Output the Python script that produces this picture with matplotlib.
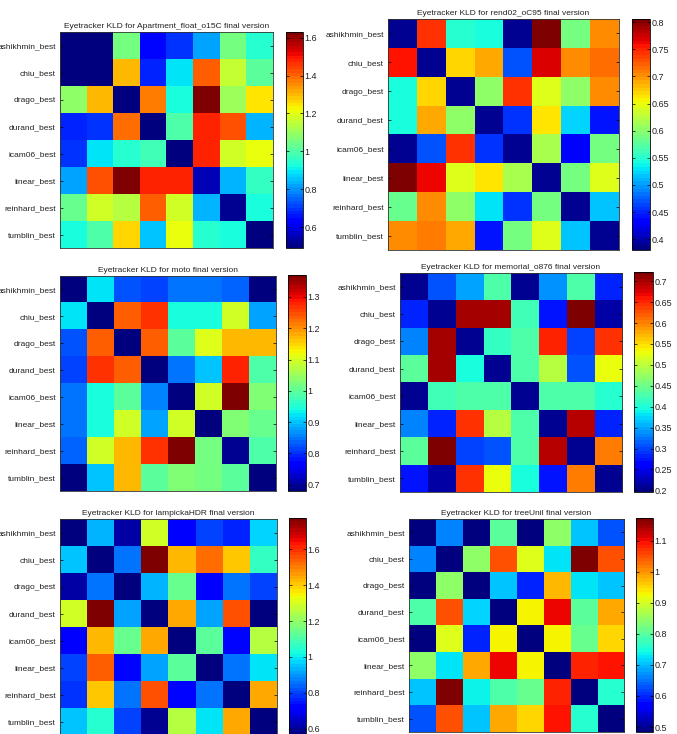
import matplotlib
matplotlib.use("Agg")
import matplotlib.pyplot as plt
from matplotlib.ticker import FormatStrFormatter

plt.rcParams['font.family'] = ['Liberation Sans', 'DejaVu Sans']

W, H = 677, 734

methods = ["ashikhmin_best", "chiu_best", "drago_best", "durand_best",
           "icam06_best", "linear_best", "reinhard_best", "tumblin_best"]

apartment = [
    [0.50, 0.50, 1.05, 0.65, 0.70, 0.82, 1.05, 0.95],
    [0.50, 0.50, 1.30, 0.67, 0.89, 1.41, 1.15, 1.02],
    [1.08, 1.30, 0.50, 1.38, 0.92, 1.62, 1.10, 1.25],
    [0.67, 0.69, 1.39, 0.50, 1.00, 1.47, 1.42, 0.84],
    [0.70, 0.89, 0.94, 0.98, 0.50, 1.48, 1.17, 1.22],
    [0.82, 1.42, 1.62, 1.48, 1.48, 0.55, 0.84, 0.97],
    [1.04, 1.17, 1.14, 1.41, 1.18, 0.84, 0.52, 0.92],
    [0.92, 1.00, 1.26, 0.85, 1.22, 0.95, 0.92, 0.50],
]
rend02 = [
    [0.39, 0.745, 0.55, 0.54, 0.39, 0.80, 0.59, 0.705],
    [0.757, 0.39, 0.67, 0.69, 0.47, 0.77, 0.70, 0.715],
    [0.54, 0.67, 0.39, 0.60, 0.74, 0.64, 0.60, 0.70],
    [0.54, 0.69, 0.605, 0.39, 0.455, 0.66, 0.525, 0.44],
    [0.39, 0.47, 0.74, 0.455, 0.39, 0.615, 0.43, 0.59],
    [0.805, 0.76, 0.645, 0.66, 0.615, 0.39, 0.59, 0.64],
    [0.585, 0.70, 0.60, 0.53, 0.455, 0.59, 0.39, 0.515],
    [0.705, 0.71, 0.69, 0.445, 0.59, 0.64, 0.515, 0.39],
]
moto = [
    [0.69, 0.92, 0.83, 0.81, 0.85, 0.85, 0.84, 0.69],
    [0.92, 0.69, 1.24, 1.27, 0.94, 0.94, 1.10, 0.88],
    [0.83, 1.24, 0.69, 1.23, 1.00, 1.105, 1.17, 1.17],
    [0.81, 1.27, 1.235, 0.69, 0.85, 0.90, 1.28, 0.99],
    [0.85, 0.94, 1.00, 0.86, 0.69, 1.10, 1.36, 1.035],
    [0.85, 0.94, 1.10, 0.88, 1.09, 0.69, 1.03, 1.01],
    [0.84, 1.10, 1.17, 1.27, 1.36, 1.025, 0.70, 0.99],
    [0.69, 0.90, 1.17, 1.00, 1.03, 1.02, 1.00, 0.69],
]
memorial = [
    [0.21, 0.305, 0.35, 0.43, 0.21, 0.34, 0.43, 0.28],
    [0.285, 0.21, 0.705, 0.705, 0.42, 0.27, 0.72, 0.215],
    [0.335, 0.705, 0.21, 0.41, 0.43, 0.65, 0.30, 0.645],
    [0.44, 0.70, 0.40, 0.21, 0.43, 0.50, 0.31, 0.53],
    [0.21, 0.42, 0.43, 0.43, 0.21, 0.43, 0.43, 0.405],
    [0.335, 0.28, 0.645, 0.50, 0.43, 0.21, 0.69, 0.28],
    [0.44, 0.715, 0.295, 0.31, 0.43, 0.69, 0.21, 0.60],
    [0.27, 0.22, 0.645, 0.53, 0.40, 0.27, 0.60, 0.21],
]
lampicka = [
    [0.58, 0.93, 0.62, 1.30, 0.70, 0.80, 0.77, 0.97],
    [0.95, 0.58, 0.86, 1.77, 1.42, 1.52, 1.40, 1.06],
    [0.62, 0.86, 0.58, 0.93, 1.15, 0.70, 0.85, 0.80],
    [1.30, 1.77, 0.92, 0.58, 1.44, 0.92, 1.55, 0.58],
    [0.70, 1.42, 1.15, 1.44, 0.58, 1.13, 0.72, 1.26],
    [0.80, 1.54, 0.72, 0.92, 1.13, 0.58, 0.85, 0.99],
    [0.78, 1.40, 0.85, 1.55, 0.72, 0.85, 0.58, 1.44],
    [0.95, 1.04, 0.80, 0.60, 1.25, 0.99, 1.44, 0.58],
]
tree = [
    [0.49, 0.66, 0.49, 0.80, 0.49, 0.85, 0.70, 0.625],
    [0.66, 0.49, 0.85, 1.05, 0.91, 0.73, 1.17, 1.05],
    [0.49, 0.85, 0.49, 0.71, 0.60, 0.97, 0.73, 0.70],
    [0.79, 1.05, 0.72, 0.49, 0.93, 1.10, 0.80, 0.98],
    [0.49, 0.91, 0.60, 0.93, 0.49, 0.93, 0.81, 0.95],
    [0.85, 0.73, 0.98, 1.10, 0.93, 0.49, 1.08, 1.09],
    [0.70, 1.17, 0.74, 0.79, 0.81, 1.08, 0.49, 0.76],
    [0.63, 1.05, 0.71, 0.98, 0.95, 1.09, 0.76, 0.49],
]

names = ["Apartment_float_o15C", "rend02_oC95", "moto",
         "memorial_o876", "lampickaHDR", "treeUnil"]
matrices = [apartment, rend02, moto, memorial, lampicka, tree]
clims = [(0.49, 1.63), (0.38, 0.806), (0.68, 1.37),
         (0.196, 0.722), (0.564, 1.775), (0.484, 1.173)]
cticks = [
    [0.6, 0.8, 1.0, 1.2, 1.4, 1.6],
    [0.4, 0.45, 0.5, 0.55, 0.6, 0.65, 0.7, 0.75, 0.8],
    [0.7, 0.8, 0.9, 1.0, 1.1, 1.2, 1.3],
    [0.2, 0.25, 0.3, 0.35, 0.4, 0.45, 0.5, 0.55, 0.6, 0.65, 0.7],
    [0.6, 0.8, 1.0, 1.2, 1.4, 1.6],
    [0.5, 0.6, 0.7, 0.8, 0.9, 1.0, 1.1],
]

# pixel boxes (x0, y0, x1, y1) measured from the top-left corner
heat_boxes = [(60, 32, 273, 248), (388, 19, 619, 250), (60, 276, 276, 491),
              (400, 273, 622, 492), (60, 519, 277, 735), (409, 519, 624, 732)]
cbar_boxes = [(286, 32, 303, 248), (632, 19, 650, 250), (288, 275, 306, 491),
              (634, 272, 653, 492), (289, 518, 306, 735), (636, 518, 653, 732)]


def px_rect(box):
    x0, y0, x1, y1 = box
    return [x0 / W, 1 - y1 / H, (x1 - x0) / W, (y1 - y0) / H]


fig = plt.figure(figsize=(W / 100, H / 100), dpi=100)
cmap = plt.get_cmap('jet', 64)
txt = '#222222'

for k in range(6):
    ax = fig.add_axes(px_rect(heat_boxes[k]))
    vmin, vmax = clims[k]
    im = ax.imshow(matrices[k], cmap=cmap, vmin=vmin, vmax=vmax,
                   aspect='auto', interpolation='nearest')
    ax.set_xticks([])
    ax.set_yticks(range(len(methods)))
    ax.set_yticklabels(methods, fontsize=6, color=txt)
    ax.tick_params(axis='y', direction='in', left=True, right=True,
                   length=2.5, width=0.5, pad=3)
    for s in ax.spines.values():
        s.set_linewidth(0.6)
        s.set_color('#333333')
    ax.set_title(f"Eyetracker KLD for {names[k]} final version",
                 fontsize=6, color=txt, pad=3)

    cax = fig.add_axes(px_rect(cbar_boxes[k]))
    cb = fig.colorbar(im, cax=cax, ticks=cticks[k])
    cb.outline.set_linewidth(0.6)
    cax.yaxis.set_major_formatter(FormatStrFormatter('%g'))
    cax.tick_params(direction='in', left=True, right=True, length=2,
                    width=0.5, labelsize=6.5, labelcolor=txt, pad=1)

fig.savefig("out.png", dpi=100)
